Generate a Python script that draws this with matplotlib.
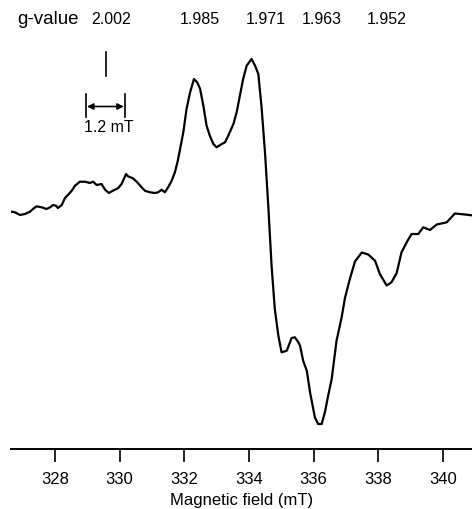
import matplotlib.pyplot as plt

# EPR derivative spectrum, intensity in arbitrary units
field_mT = [
    326.66, 326.76, 326.92, 327.07, 327.23, 327.32, 327.43, 327.59, 327.74, 327.85,
    327.94, 328.03, 328.09, 328.21, 328.31, 328.40, 328.52, 328.62, 328.77, 328.93,
    329.08, 329.18, 329.29, 329.44, 329.55, 329.67, 329.79, 329.95, 330.06, 330.20,
    330.26, 330.41, 330.53, 330.68, 330.78, 330.94, 331.09, 331.19, 331.30, 331.40,
    331.50, 331.61, 331.71, 331.80, 331.87, 331.97, 332.07, 332.18, 332.30, 332.40,
    332.49, 332.59, 332.69, 332.79, 332.90, 333.00, 333.16, 333.26, 333.36, 333.52,
    333.62, 333.72, 333.82, 333.93, 334.08, 334.19, 334.29, 334.39, 334.50, 334.60,
    334.70, 334.80, 334.91, 335.01, 335.17, 335.32, 335.42, 335.53, 335.58, 335.68,
    335.79, 335.89, 336.04, 336.14, 336.25, 336.35, 336.45, 336.56, 336.71, 336.87,
    336.97, 337.13, 337.28, 337.49, 337.69, 337.90, 338.05, 338.26, 338.41, 338.57,
    338.72, 338.88, 339.03, 339.24, 339.39, 339.60, 339.81, 340.12, 340.37, 340.68,
    340.89,
]
signal = [
    2.3, 1.7, -1.0, 0.0, 2.3, 5.0, 7.7, 6.7, 5.0, 6.7,
    9.0, 8.3, 6.0, 9.0, 16.0, 19.0, 23.3, 28.3, 32.3, 32.3,
    31.0, 32.3, 29.0, 30.0, 24.3, 21.0, 23.3, 25.7, 30.0, 40.0,
    37.7, 35.7, 32.3, 26.7, 23.3, 21.7, 21.0, 21.7, 24.3, 21.7,
    26.7, 33.3, 41.7, 53.3, 65.0, 81.7, 105.0, 121.7, 135.0, 131.7,
    125.0, 108.3, 88.3, 78.3, 70.0, 66.7, 70.0, 71.7, 78.3, 90.0,
    101.7, 118.3, 135.0, 148.3, 155.0, 148.3, 140.0, 107.0, 60.0, 7.0,
    -51.7, -95.0, -121.7, -138.3, -136.7, -124.0, -123.3, -128.3, -131.7, -147.0,
    -156.7, -178.3, -203.3, -210.0, -210.0, -198.3, -181.7, -165.0, -126.7, -103.0,
    -84.0, -64.0, -47.5, -38.5, -40.5, -46.7, -60.0, -71.5, -68.3, -59.0,
    -38.3, -28.3, -20.0, -20.0, -13.3, -16.0, -10.5, -8.3, 0.5, -0.5,
    -1.3,
]

g_labels = ["2.002", "1.985", "1.971", "1.963", "1.952"]
g_label_fields = [329.73, 332.49, 334.53, 336.26, 338.27]

g_marker_field = 329.58
scale_start = 328.96
scale_width = 1.2

plt.rcParams["font.family"] = ["Liberation Sans", "DejaVu Sans"]

fig = plt.figure(figsize=(4.72, 5.10), dpi=100)
ax = fig.add_axes([11 / 472, 60 / 510, 461 / 472, 410 / 510])

ax.plot(field_mT, signal, color="black", lw=1.6, solid_joinstyle="round")

ax.set_xlim(326.64, 340.90)
ax.set_ylim(-235, 175)

for side in ("left", "top", "right"):
    ax.spines[side].set_visible(False)
ax.spines["bottom"].set_linewidth(1.4)
ax.set_yticks([])
ax.set_xticks([328, 330, 332, 334, 336, 338, 340])
ax.tick_params(axis="x", direction="out", length=9, width=1.2, pad=7, labelsize=12)
ax.set_xlabel("Magnetic field (mT)", fontsize=12, labelpad=4.5)

# g-value labels along the top
ax.text(327.78, 195, "g-value", fontsize=13.5, ha="center", va="center", clip_on=False)
for lab, f in zip(g_labels, g_label_fields):
    ax.text(f, 195, lab, fontsize=11.5, ha="center", va="center", clip_on=False)

# g = 2.002 position marker
ax.plot([g_marker_field, g_marker_field], [138, 162], color="black", lw=1.2)

# 1.2 mT scale bar
scale_end = scale_start + scale_width
ax.plot([scale_start, scale_start], [97, 120], color="black", lw=1.2)
ax.plot([scale_end, scale_end], [97, 120], color="black", lw=1.2)
ax.annotate("", xy=(scale_start + 0.03, 107.5), xytext=(scale_end - 0.03, 107.5),
            arrowprops=dict(arrowstyle="<|-|>", color="black", lw=1.2,
                            mutation_scale=9, shrinkA=0, shrinkB=0))
ax.text(scale_start + scale_width / 2 + 0.1, 88, f"{scale_width} mT", fontsize=11.5,
        ha="center", va="center")

fig.savefig("out.png", dpi=100)
